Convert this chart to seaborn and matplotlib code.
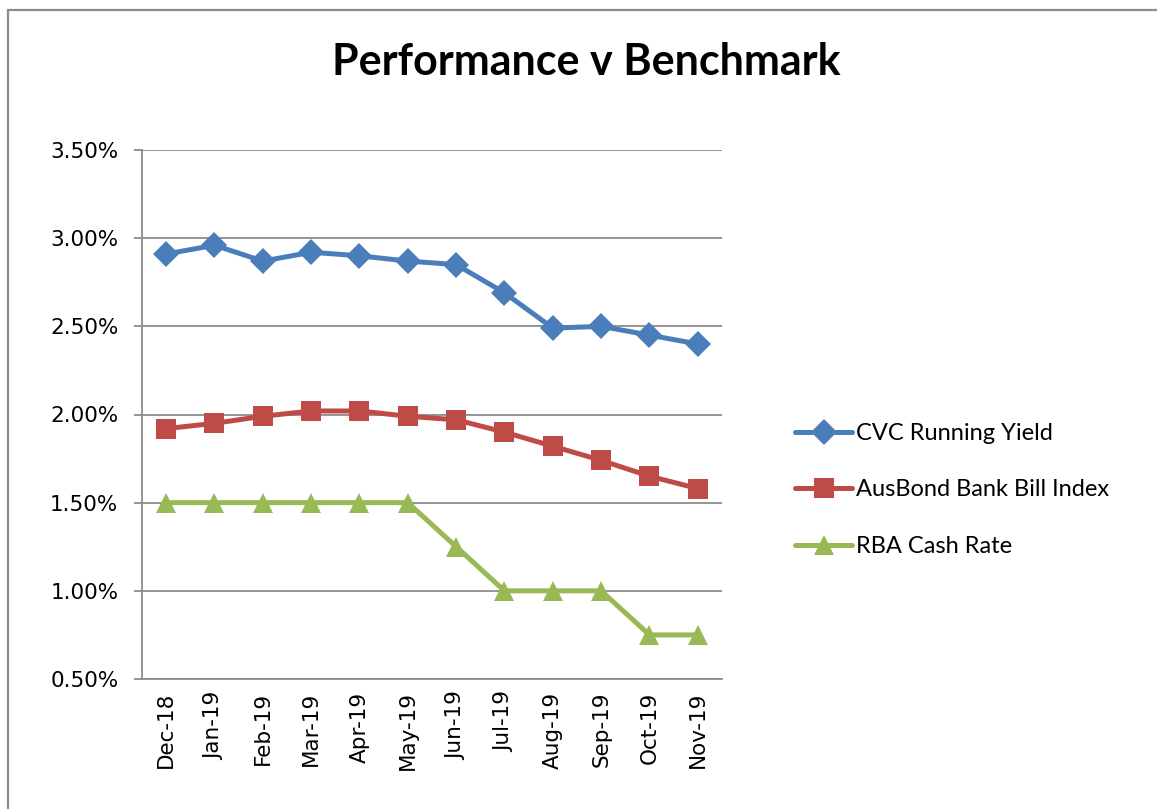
import pandas as pd
import numpy as np
import matplotlib.pyplot as plt
import seaborn as sns
from matplotlib.patches import Rectangle
from matplotlib.ticker import FuncFormatter, FixedLocator

# --- DATA ---
months = ["Dec-18", "Jan-19", "Feb-19", "Mar-19", "Apr-19", "May-19",
          "Jun-19", "Jul-19", "Aug-19", "Sep-19", "Oct-19", "Nov-19"]
cvc_yield = [2.91, 2.96, 2.87, 2.92, 2.90, 2.87, 2.85, 2.69, 2.49, 2.50, 2.45, 2.40]
ausbond = [1.92, 1.95, 1.99, 2.02, 2.02, 1.99, 1.97, 1.90, 1.82, 1.74, 1.65, 1.58]
rba_cash = [1.50, 1.50, 1.50, 1.50, 1.50, 1.50, 1.25, 1.00, 1.00, 1.00, 0.75, 0.75]
series_names = ["CVC Running Yield", "AusBond Bank Bill Index", "RBA Cash Rate"]
colors = ["#4A7EBB", "#BE4B48", "#98B954"]
markers = ["D", "s", "^"]

long = pd.concat([
    pd.DataFrame({"idx": np.arange(len(months)), "value": vals, "series": name})
    for name, vals in zip(series_names, [cvc_yield, ausbond, rba_cash])
])

# --- PLOT ---
sns.set_style("white")
plt.rcParams['font.family'] = ['DejaVu Sans']
plt.rcParams['text.color'] = 'black'
plt.rcParams['xtick.labelcolor'] = 'black'
plt.rcParams['ytick.labelcolor'] = 'black'
fig = plt.figure(figsize=(11.57, 8.09), dpi=100)
ax = fig.add_axes([142 / 1157, 1 - 679 / 809, (722 - 142) / 1157, (679 - 150) / 809])

sizes = {"D": 13, "s": 14, "^": 14}
for name, col, mk in zip(series_names, colors, markers):
    sub = long[long["series"] == name]
    sns.lineplot(data=sub, x="idx", y="value", ax=ax, color=col, marker=mk,
                 markersize=sizes[mk], markeredgewidth=0, linewidth=3.6,
                 label=name, sort=False, zorder=3)

ax.set_xlim(-0.5, len(months) - 0.5)
ax.set_ylim(0.5, 3.5)
ax.set_yticks(np.arange(0.5, 3.51, 0.5))
ax.yaxis.set_major_formatter(FuncFormatter(lambda v, p: f"{v:.2f}%"))
ax.set_xticks(np.arange(len(months)))
ax.set_xticklabels(months, rotation=90)
ax.xaxis.set_minor_locator(FixedLocator(np.arange(-0.5, len(months), 1.0)))
ax.tick_params(axis="x", which="major", length=0, labelsize=15.5, pad=9)
ax.tick_params(axis="x", which="minor", length=6, width=1.3, color="#8c8c8c", direction="out")
ax.tick_params(axis="y", which="major", length=6, width=1.3, color="#8c8c8c",
               direction="out", labelsize=15.5, left=True, pad=11)
ax.yaxis.grid(True, color="#8c8c8c", linewidth=1.3)
ax.set_axisbelow(True)
for side in ["top", "right"]:
    ax.spines[side].set_visible(False)
for side in ["left", "bottom"]:
    ax.spines[side].set_color("#8c8c8c")
    ax.spines[side].set_linewidth(1.3)
ax.set_xlabel("")
ax.set_ylabel("")

handles, labels = ax.get_legend_handles_labels()
ax.legend_.remove()
fig.legend(handles, labels, loc="center left", bbox_to_anchor=(786 / 1157, 1 - 490 / 809),
           frameon=False, prop={"family": "Lato", "size": 17}, handlelength=2.4,
           handletextpad=0.15, labelspacing=1.5, borderaxespad=0)

fig.text(586 / 1157, 1 - 62 / 809, "Performance v Benchmark", ha="center", va="center",
         fontsize=31, fontweight="bold", family="Lato", color="black")

fig.patches.append(Rectangle((8 / 1157, -0.1), 1.2, 1 - 10 / 809 + 0.1, transform=fig.transFigure,
                             fill=False, edgecolor="#8c8c8c", linewidth=1.6))

fig.savefig("out.png", dpi=100)
plt.close()
